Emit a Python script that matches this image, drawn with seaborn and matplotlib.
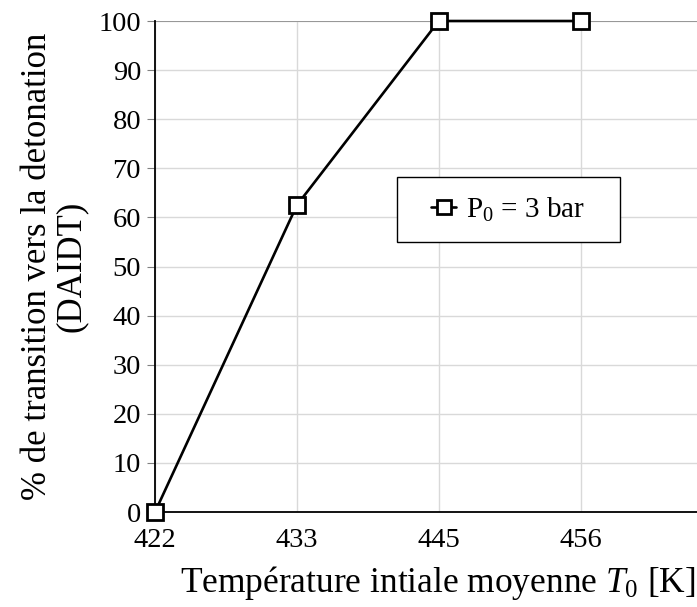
import matplotlib
matplotlib.use("Agg")
import matplotlib.pyplot as plt
from matplotlib.patches import Rectangle
import seaborn as sns

# Données
temperatures = ["422", "433", "445", "456"]
pourcentage_daidt = [0, 62.5, 100, 100]
legende = "P$_0$ = 3 bar"

sns.set_style("whitegrid")
plt.rcParams["font.family"] = ["Liberation Serif", "DejaVu Serif"]
plt.rcParams["mathtext.fontset"] = "custom"
plt.rcParams["mathtext.rm"] = "Liberation Serif"
plt.rcParams["mathtext.it"] = "Liberation Serif:italic"
plt.rcParams["text.color"] = "black"
plt.rcParams["axes.labelcolor"] = "black"
plt.rcParams["xtick.color"] = "black"
plt.rcParams["ytick.color"] = "black"

fig = plt.figure(figsize=(6.97, 6.07), dpi=100)
ax = fig.add_axes([0.2224, 0.1565, 0.7776, 0.8089])

sns.lineplot(x=temperatures, y=pourcentage_daidt, ax=ax, color="black",
             linewidth=1.9, marker="s", markersize=12, markerfacecolor="white",
             markeredgecolor="black", markeredgewidth=2, label=legende,
             clip_on=False, zorder=5)

ax.set_xlim(0, 3.82)
ax.set_ylim(0, 100)
ax.set_yticks(range(0, 101, 10))
ax.grid(True, color="#d9d9d9", linewidth=1)
for s in ["top", "right"]:
    ax.spines[s].set_visible(False)
for s in ["left", "bottom"]:
    ax.spines[s].set_color("black")
    ax.spines[s].set_linewidth(1.3)
ax.axhline(100, color="#8c8c8c", linewidth=1.2, zorder=1)

ax.tick_params(axis="y", which="major", left=True, length=6, color="#808080",
               labelsize=20.5, pad=4)
ax.tick_params(axis="x", which="major", bottom=False, labelsize=20.5, pad=8)

ax.set_xlabel("Température intiale moyenne $T_0$ [K]", fontsize=25.5)
ax.set_ylabel("% de transition vers la detonation\n(DAIDT)", fontsize=25,
              linespacing=1.05)
ax.yaxis.set_label_coords(-0.124, 0.5)
ax.xaxis.set_label_coords(0.522, -0.105)

# cadre de la légende, plus large que le contenu comme sur l'original
ax.add_patch(Rectangle((0.446, 0.55), 0.412, 0.132, transform=ax.transAxes,
                       facecolor="white", edgecolor="black", linewidth=1.0,
                       zorder=6))
leg = ax.legend(loc="center", bbox_to_anchor=(0.652, 0.616), fontsize=21,
                frameon=False, handlelength=0.85, handletextpad=0.35,
                borderpad=0, borderaxespad=0, markerscale=0.8)
leg.set_zorder(7)

fig.savefig("out.png", dpi=100)
